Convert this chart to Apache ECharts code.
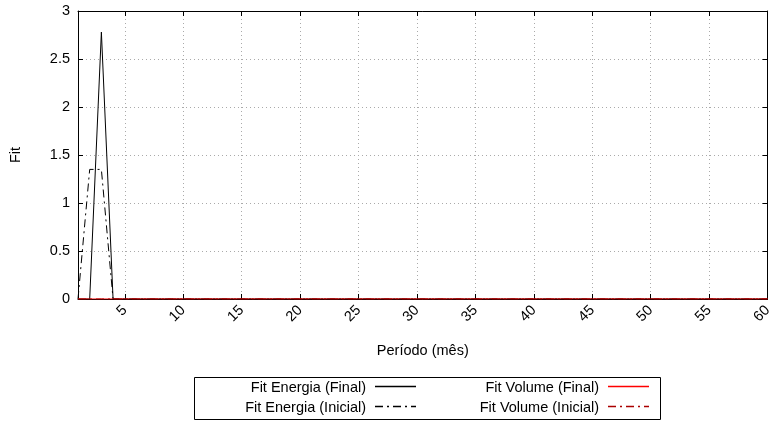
<!DOCTYPE html>
<html>
<head>
<meta charset="utf-8">
<script src="https://cdn.jsdelivr.net/npm/echarts@6/dist/echarts.min.js"></script>
<style>
html,body{margin:0;padding:0;background:#fff;}
#chart{width:775px;height:421px;}
</style>
</head>
<body>
<div id="chart"></div>
<script>
const months = [1,2,3,4,5,6,7,8,9,10,11,12,13,14,15,16,17,18,19,20,21,22,23,24,25,26,27,28,29,30,31,32,33,34,35,36,37,38,39,40,41,42,43,44,45,46,47,48,49,50,51,52,53,54,55,56,57,58,59,60];
const fitEnergiaFinal = [0,0,2.78,0,0,0,0,0,0,0,0,0,0,0,0,0,0,0,0,0,0,0,0,0,0,0,0,0,0,0,0,0,0,0,0,0,0,0,0,0,0,0,0,0,0,0,0,0,0,0,0,0,0,0,0,0,0,0,0,0];
const fitEnergiaInicial = [0,1.35,1.35,0,0,0,0,0,0,0,0,0,0,0,0,0,0,0,0,0,0,0,0,0,0,0,0,0,0,0,0,0,0,0,0,0,0,0,0,0,0,0,0,0,0,0,0,0,0,0,0,0,0,0,0,0,0,0,0,0];
const fitVolumeFinal = [0,0,0,0,0,0,0,0,0,0,0,0,0,0,0,0,0,0,0,0,0,0,0,0,0,0,0,0,0,0,0,0,0,0,0,0,0,0,0,0,0,0,0,0,0,0,0,0,0,0,0,0,0,0,0,0,0,0,0,0];
const fitVolumeInicial = [0,0,0,0,0,0,0,0,0,0,0,0,0,0,0,0,0,0,0,0,0,0,0,0,0,0,0,0,0,0,0,0,0,0,0,0,0,0,0,0,0,0,0,0,0,0,0,0,0,0,0,0,0,0,0,0,0,0,0,0];
const xTicks = [5,10,15,20,25,30,35,40,45,50,55,60];
const seriesNames = ['Fit Energia (Final)','Fit Energia (Inicial)','Fit Volume (Final)','Fit Volume (Inicial)'];
const seriesColors = ['#000000','#000000','#ff0000','#aa0000'];

const FONT = 'Liberation Sans, Arial, Helvetica, sans-serif';
const FS = 14.5;
const pair = (arr) => months.map((m, i) => [m, arr[i]]);
const dashDot = [8,4,2,4];
const seriesDash = ['solid', dashDot, 'solid', dashDot];

// invisible placeholder icon (41x10 box) – the visible line samples are drawn as graphics
const ICON_BOX = 'path://M0,0M41,10M0,4.4H41V5.6H0Z';

const chart = echarts.init(document.getElementById('chart'), null, {renderer: 'canvas'});

function legendAt(i, right, top) {
  return {
    data: [seriesNames[i]], right: right, top: top, align: 'right', orient: 'horizontal',
    icon: ICON_BOX,
    itemWidth: 41, itemHeight: 10, itemGap: 10, padding: 0,
    itemStyle: {opacity: 0},
    textStyle: {fontFamily: FONT, fontSize: FS, color: '#000', padding: [0, 4, 0, 0]}
  };
}

function sample(i, x1, x2, y) {
  return {
    type: 'line', silent: true, z: 100,
    shape: {x1: x1, y1: y, x2: x2, y2: y},
    style: {stroke: seriesColors[i], lineWidth: 1.3, lineDash: seriesDash[i] === 'solid' ? null : seriesDash[i]}
  };
}

const option = {
  animation: false,
  backgroundColor: '#fff',
  grid: {left: 76, right: 2, top: 11, bottom: 122, containLabel: false},
  legend: [
    legendAt(0, 359, 380),
    legendAt(1, 359, 400),
    legendAt(2, 126, 380),
    legendAt(3, 126, 400)
  ],
  graphic: [
    {type: 'rect', left: 192, top: 375, shape: {width: 466, height: 42},
     style: {fill: 'none', stroke: '#000', lineWidth: 1}, silent: true},
    sample(0, 375, 416, 386.5),
    sample(1, 375, 416, 406.5),
    sample(2, 608, 649, 386.5),
    sample(3, 608, 649, 406.5)
  ],
  xAxis: [{
    type: 'value', min: 1, max: 60, position: 'bottom',
    name: 'Período (mês)', nameLocation: 'middle', nameGap: 44,
    nameTextStyle: {fontFamily: FONT, fontSize: FS, color: '#000'},
    axisLine: {show: true, onZero: false, lineStyle: {color: '#000', width: 1}},
    axisTick: {show: true, inside: true, length: 5, customValues: xTicks, lineStyle: {color: '#000'}},
    axisLabel: {show: true, rotate: 45, margin: 9, customValues: xTicks, fontFamily: FONT, fontSize: FS, color: '#000'},
    splitLine: {show: true, lineStyle: {color: '#aaa', type: [1,3], width: 1}}
  }, {
    type: 'value', min: 1, max: 60, position: 'top',
    axisLine: {show: true, onZero: false, lineStyle: {color: '#000', width: 1}},
    axisTick: {show: true, inside: true, length: 5, customValues: xTicks, lineStyle: {color: '#000'}},
    axisLabel: {show: false},
    splitLine: {show: false}
  }],
  yAxis: [{
    type: 'value', min: 0, max: 3, interval: 0.5, position: 'left',
    name: 'Fit', nameLocation: 'middle', nameGap: 55,
    nameTextStyle: {fontFamily: FONT, fontSize: FS, color: '#000'},
    axisLine: {show: true, onZero: false, lineStyle: {color: '#000', width: 1}},
    axisTick: {show: true, inside: true, length: 5, lineStyle: {color: '#000'}},
    axisLabel: {show: true, margin: 8, fontFamily: FONT, fontSize: FS, color: '#000'},
    splitLine: {show: true, lineStyle: {color: '#aaa', type: [1,3], width: 1}}
  }, {
    type: 'value', min: 0, max: 3, interval: 0.5, position: 'right',
    axisLine: {show: true, onZero: false, lineStyle: {color: '#000', width: 1}},
    axisTick: {show: true, inside: true, length: 5, lineStyle: {color: '#000'}},
    axisLabel: {show: false},
    splitLine: {show: false}
  }],
  series: [
    {name: seriesNames[0], type: 'line', data: pair(fitEnergiaFinal), symbol: 'none', z: 3,
     lineStyle: {color: seriesColors[0], width: 1, type: seriesDash[0]}, itemStyle: {color: seriesColors[0]}},
    {name: seriesNames[1], type: 'line', data: pair(fitEnergiaInicial), symbol: 'none', z: 3,
     lineStyle: {color: seriesColors[1], width: 1, type: seriesDash[1]}, itemStyle: {color: seriesColors[1]}},
    {name: seriesNames[2], type: 'line', data: pair(fitVolumeFinal), symbol: 'none', z: 4,
     lineStyle: {color: seriesColors[2], width: 1, type: seriesDash[2]}, itemStyle: {color: seriesColors[2]}},
    {name: seriesNames[3], type: 'line', data: pair(fitVolumeInicial), symbol: 'none', z: 5,
     lineStyle: {color: seriesColors[3], width: 1, type: seriesDash[3]}, itemStyle: {color: seriesColors[3]}}
  ]
};
chart.setOption(option);
</script>
</body>
</html>
